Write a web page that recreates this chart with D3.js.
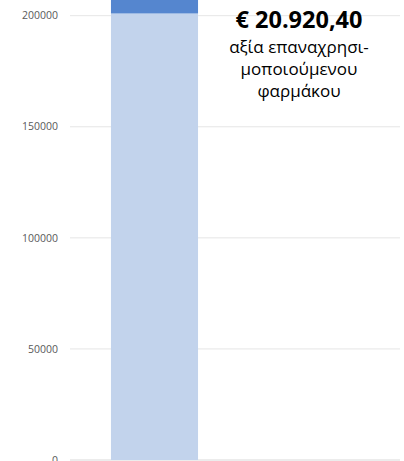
<!DOCTYPE html>
<html>
<head>
<meta charset="utf-8">
<script src="https://cdn.jsdelivr.net/npm/d3@7"></script>
<style>
  body { margin: 0; background: #fff; }
  svg { display: block; }
</style>
</head>
<body>
<svg id="chart" width="404" height="461"></svg>
<script>
// values
let categories = ["total"];
let baseValues = [201000];      // light part
let reusedValues = [20920.40];  // dark part, runs off the top
let yTicks = [0, 50000, 100000, 150000, 200000];
let labelLines = ["αξία επαναχρησι-", "μοποιούμενου", "φαρμάκου"];
let labelValue = "€ 20.920,40";

let lightColor = "#c2d3ec";
let darkColor = "#5586cf";
let gridColor = "#e6e6e6";
let tickColor = "#595959";

let svg = d3.select("#chart");

let plotLeft = 70, plotRight = 400;

let y = d3.scaleLinear()
  .domain([0, 200000])
  .range([460, 15.7]);

let x = d3.scaleBand()
  .domain(categories)
  .range([plotLeft, 239])
  .padding(0.32);

// gridlines
svg.append("g")
  .selectAll("line")
  .data(yTicks)
  .enter().append("line")
    .attr("x1", plotLeft)
    .attr("x2", plotRight)
    .attr("y1", d => y(d))
    .attr("y2", d => y(d))
    .style("stroke", d => d == 0 ? "#d9d9d9" : gridColor)
    .style("stroke-width", 1);

// tick labels
svg.append("g")
  .selectAll("text")
  .data(yTicks)
  .enter().append("text")
    .attr("x", 58)
    .attr("y", d => y(d))
    .attr("dy", "0.35em")
    .text(d => d)
    .style("font-family", "Open Sans")
    .style("font-size", 10.5)
    .style("fill", tickColor)
    .style("text-anchor", "end");

// stacked bar
let bars = svg.append("g");
bars.selectAll(".base")
  .data(categories)
  .enter().append("rect")
    .attr("class", "base")
    .attr("x", d => x(d))
    .attr("width", x.bandwidth())
    .attr("y", (d, i) => y(baseValues[i]))
    .attr("height", (d, i) => y(0) - y(baseValues[i]))
    .style("fill", lightColor);
bars.selectAll(".reused")
  .data(categories)
  .enter().append("rect")
    .attr("class", "reused")
    .attr("x", d => x(d))
    .attr("width", x.bandwidth())
    .attr("y", (d, i) => y(baseValues[i] + reusedValues[i]))
    .attr("height", (d, i) => y(baseValues[i]) - y(baseValues[i] + reusedValues[i]))
    .style("fill", darkColor);

// annotation text
let cx = 299;
svg.append("text")
  .attr("x", cx)
  .attr("y", 28)
  .text(labelValue)
  .style("font-family", "Open Sans")
  .style("font-weight", "bold")
  .style("font-size", 23.5)
  .style("text-anchor", "middle")
  .style("fill", "#000");

let line = 0;
for (var t of labelLines) {
  svg.append("text")
    .attr("x", cx)
    .attr("y", 53 + 22 * line)
    .text(t)
    .style("font-family", "Open Sans")
    .style("font-size", 17)
    .style("text-anchor", "middle")
    .style("fill", "#000");
  line = line + 1;
}
</script>
</body>
</html>
